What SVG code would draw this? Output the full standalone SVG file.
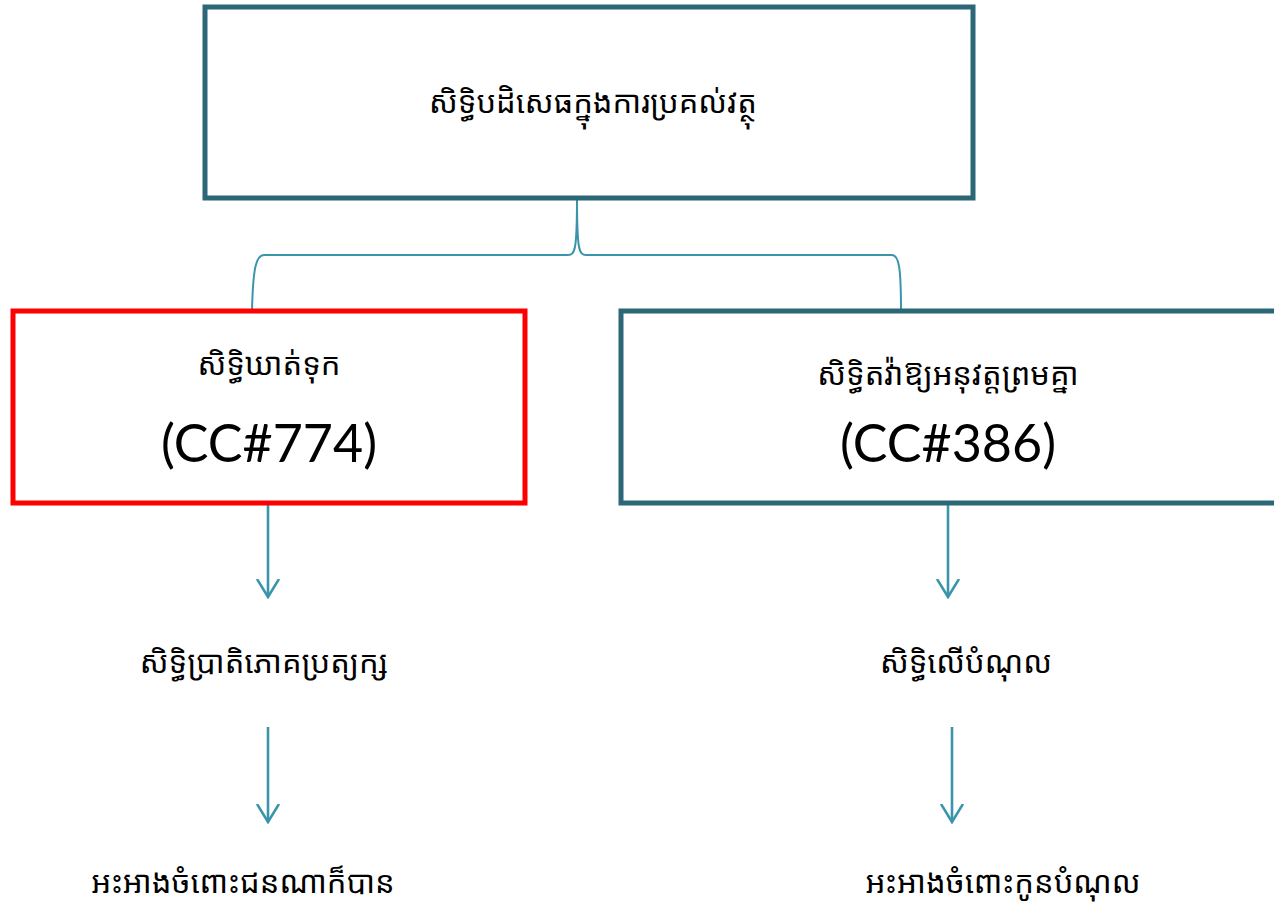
<svg xmlns="http://www.w3.org/2000/svg" width="1274" height="909" viewBox="0 0 1274 909">
<style>
.box{fill:#fff;stroke-width:5}
.teal{stroke:#2C6777}
.red{stroke:#FF0000}
.km{font-family:"Noto Sans Khmer","Khmer OS","Noto Sans","DejaVu Sans",sans-serif;font-size:31px;fill:#000;text-anchor:middle}
.cc{font-family:Lato,"Open Sans","Liberation Sans",sans-serif;font-size:52px;fill:#000;text-anchor:middle}
.con{fill:none;stroke:#3A95AA;stroke-width:2}
.arw{fill:none;stroke:#3A95AA;stroke-width:2.6}
</style>
<defs>
<marker id="arr" viewBox="0 0 20 24" refX="18" refY="12" markerWidth="20" markerHeight="24" markerUnits="userSpaceOnUse" orient="auto">
<path d="M0,1 L18,12 L0,23" fill="none" stroke="#3A95AA" stroke-width="2.6"/>
</marker>
</defs>
<rect width="1274" height="909" fill="#fff"/>
<g id="connectors">
<path class="con" d="M577,198 C577,250 575,255 568,255 L264,255 C256,255 253,268 252,311"/>
<path class="con" d="M577,198 C577,250 579,255 586,255 L892,255 C899,255 901,268 901,311"/>
<path class="arw" d="M268,503 L268,597" marker-end="url(#arr)"/>
<path class="arw" d="M268,727 L268,822" marker-end="url(#arr)"/>
<path class="arw" d="M948,503 L948,597" marker-end="url(#arr)"/>
<path class="arw" d="M952,727 L952,822" marker-end="url(#arr)"/>
</g>
<g id="root">
<rect class="box teal" x="205" y="7" width="768" height="191"/>
<text class="km" x="593" y="113">សិទ្ធិបដិសេធក្នុងការប្រគល់វត្ថុ</text>
</g>
<g id="retention">
<rect class="box red" x="13" y="311" width="512" height="192"/>
<text class="km" x="269" y="375">សិទ្ធិឃាត់ទុក</text>
<text class="cc" x="269" y="462">(CC#774)</text>
</g>
<g id="setoff">
<rect class="box teal" x="621" y="311" width="660" height="192"/>
<text class="km" x="948" y="385">សិទ្ធិតវ៉ាឱ្យអនុវត្តព្រមគ្នា</text>
<text class="cc" x="948" y="462">(CC#386)</text>
</g>
<g id="real-right">
<text class="km" x="264" y="673">សិទ្ធិប្រាតិភោគប្រត្យក្ស</text>
</g>
<g id="real-claim">
<text class="km" x="243" y="893">អះអាងចំពោះជនណាក៏បាន</text>
</g>
<g id="claim-right">
<text class="km" x="966" y="673">សិទ្ធិលើបំណុល</text>
</g>
<g id="claim-debtor">
<text class="km" x="1003" y="893">អះអាងចំពោះកូនបំណុល</text>
</g>
</svg>
